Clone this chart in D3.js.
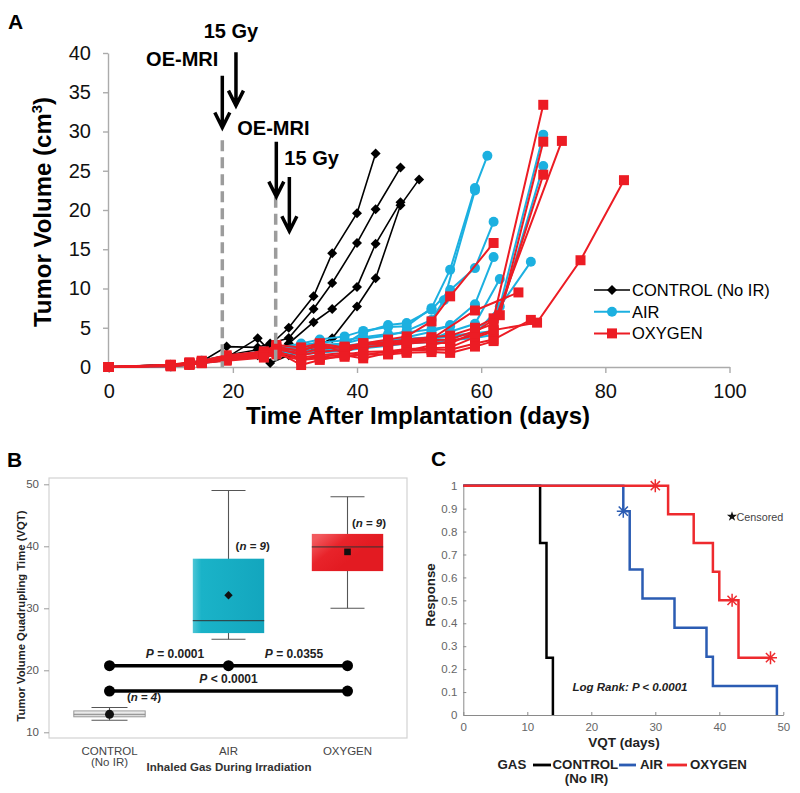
<!DOCTYPE html>
<html><head><meta charset="utf-8">
<script src="https://cdn.jsdelivr.net/npm/d3@7"></script>
<style>body{margin:0;background:#fff}svg{display:block}</style>
</head><body>
<svg id="c" width="800" height="793"></svg>
<script>
// ---------------- DATA ----------------
// Panel A: tumor volume (cm3) vs day after implantation, [day, volume]
const aTicksX = [0, 20, 40, 60, 80, 100];
const aTicksY = [0, 5, 10, 15, 20, 25, 30, 35, 40];
const groupNames = ["CONTROL (No IR)", "AIR", "OXYGEN"];
const controlSeries = [
  [[0,0],[10,0.3],[13,0.5],[15,0.8],[19,1.5],[24,2.2],[26,2.8],[29,5.0],[33,9.0],[36,14.5],[40,19.6],[43,27.2]],
  [[0,0],[10,0.2],[13,0.4],[15,0.7],[19,2.6],[24,2.5],[26,3.0],[29,3.7],[33,7.4],[36,10.7],[40,15.8],[43,20.1],[47,25.4]],
  [[0,0],[10,0.2],[13,0.5],[15,0.6],[19,1.2],[24,3.65],[26,2.0],[29,3.0],[33,5.7],[36,7.4],[40,10.2],[43,15.7],[47,21.0]],
  [[0,0],[10,0.3],[13,0.4],[15,0.5],[19,1.0],[24,1.5],[26,0.5],[29,1.5],[33,2.5],[36,3.65],[40,7.7],[43,11.3],[47,20.6],[50,23.9]]
];
const airSeries = [
  [[0,0],[10,0.2],[13,0.4],[15,0.6],[19,1.2],[25,1.8],[27,2.4],[31,3.0],[34,3.5],[38,3.9],[41,4.6],[45,5.1],[48,5.2],[52,7.5],[55,12.4],[59,22.8],[61,26.9]],
  [[0,0],[10,0.1],[13,0.3],[15,0.5],[19,1.0],[25,1.6],[27,2.2],[31,2.5],[34,2.8],[38,3.0],[41,3.6],[45,4.0],[48,4.6],[52,6.0],[54,8.5],[59,22.5]],
  [[0,0],[10,0.2],[13,0.5],[15,0.8],[19,1.4],[25,2.0],[27,2.6],[31,2.4],[34,2.6],[38,2.9],[41,4.4],[45,5.35],[48,5.6],[52,7.3],[55,9.8],[59,12.6],[62,18.5]],
  [[0,0],[10,0.2],[13,0.4],[15,0.7],[19,1.1],[25,1.5],[27,2.0],[31,2.0],[34,2.2],[38,2.5],[41,2.8],[45,3.2],[48,3.8],[52,4.5],[55,5.35],[59,8.0],[62,14.0]],
  [[0,0],[10,0.2],[13,0.4],[15,0.6],[19,1.0],[25,1.4],[27,1.9],[31,1.6],[34,1.8],[38,2.1],[41,2.4],[45,2.9],[48,3.2],[52,3.5],[55,4.5],[59,5.5],[63,11.2]],
  [[0,0],[10,0.1],[13,0.3],[15,0.5],[19,0.9],[25,1.3],[27,1.7],[31,1.9],[34,2.1],[38,2.3],[41,2.6],[45,3.0],[48,3.3],[52,3.6],[55,3.9],[59,4.2],[63,7.7],[68,13.4]],
  [[0,0],[10,0.2],[13,0.4],[15,0.7],[19,1.2],[25,1.7],[27,2.3],[31,2.2],[34,2.5],[38,2.7],[41,3.0],[45,3.4],[48,3.6],[52,3.8],[55,4.0],[59,4.3],[62,4.6],[70,29.6]],
  [[0,0],[10,0.1],[13,0.3],[15,0.5],[19,0.9],[25,1.4],[27,1.8],[31,1.7],[34,2.0],[38,2.2],[41,2.4],[45,2.7],[48,3.0],[52,3.2],[55,3.4],[59,3.7],[62,4.1],[70,25.6]],
  [[0,0],[10,0.2],[13,0.4],[15,0.6],[19,1.1],[25,1.6],[27,2.1],[31,2.8],[34,3.1],[38,3.4],[41,3.8],[45,4.2],[48,4.4],[52,4.8],[55,5.2]]
];
const oxygenSeries = [
  [[0,0],[10,0.25],[13,0.5],[15,0.7],[19,1.3],[25,1.75],[27,2.6],[31,2.0],[34,3.0],[38,2.5],[41,3.0],[45,3.5],[48,3.9],[52,5.8],[55,9.0],[62,15.8]],
  [[0,0],[10,0.2],[13,0.4],[15,0.6],[19,1.0],[25,1.5],[27,2.0],[31,0.25],[34,0.9],[38,1.5],[41,1.1],[45,1.8],[48,2.0],[52,2.8],[55,3.3],[59,4.0],[62,4.7],[69,5.65],[76,13.6],[83,23.8]],
  [[0,0],[10,0.3],[13,0.6],[15,0.8],[19,1.5],[25,2.0],[27,2.8],[31,2.5],[34,3.0],[38,1.75],[41,3.0],[45,3.2],[48,3.5],[52,3.8],[55,4.0],[59,5.0],[62,6.2],[70,33.4]],
  [[0,0],[10,0.2],[13,0.5],[15,0.7],[19,1.2],[25,1.8],[27,2.4],[31,1.5],[34,1.95],[38,2.2],[41,2.5],[45,2.8],[48,3.0],[52,3.2],[55,3.0],[59,4.4],[63,6.6],[70,28.7]],
  [[0,0],[10,0.2],[13,0.4],[15,0.6],[19,1.1],[25,1.6],[27,2.2],[31,1.8],[34,2.3],[38,2.6],[41,3.0],[45,2.8],[48,3.2],[52,3.4],[55,3.5],[59,4.6],[62,5.5],[73,28.8]],
  [[0,0],[10,0.1],[13,0.3],[15,0.5],[19,0.9],[25,1.4],[27,1.9],[31,1.2],[34,1.5],[38,1.8],[41,1.5],[45,2.0],[48,2.3],[52,2.4],[55,2.5],[59,3.8],[62,4.5],[70,24.5]],
  [[0,0],[10,0.2],[13,0.4],[15,0.6],[19,1.2],[25,1.7],[27,2.3],[31,2.2],[34,2.6],[38,2.4],[41,2.8],[45,3.0],[48,3.3],[52,3.6],[59,7.2],[66,9.5]],
  [[0,0],[10,0.2],[13,0.3],[15,0.5],[19,1.0],[25,1.5],[27,2.0],[31,1.0],[34,1.3],[38,1.6],[41,1.9],[45,2.0],[48,2.1],[52,2.2],[55,2.2],[59,3.0],[62,3.5],[68,6.0]],
  [[0,0],[10,0.1],[13,0.3],[15,0.5],[19,0.8],[25,1.2],[27,1.6],[31,0.9],[34,1.1],[38,1.3],[41,1.6],[45,1.6],[48,1.8],[52,1.9],[55,1.8],[59,2.6],[62,3.3]]
];
// Panel A annotations: events (day), arrow top / tip (volume)
const eventLabels = ["OE-MRI", "15 Gy", "OE-MRI", "15 Gy"];
const eventDays = [18.3, 20.5, 27.0, 29.1];
const arrowTop = [37.1, 40.1, 28.7, 24.2];
const arrowTip = [30.5, 33.3, 21.7, 17.3];
const dashedDays = [18.3, 26.9];
const dashedTop = [28.9, 21.7];

// Panel B: box plot of VQT
const boxCategories = ["CONTROL", "AIR", "OXYGEN"];
const boxSub = ["(No IR)", "", ""];
const boxMin = [11.95, 25, 30];
const boxQ1 = [12.5, 26, 36];
const boxMedian = [12.9, 28, 39.9];
const boxQ3 = [13.45, 38, 42];
const boxMax = [14, 49, 48];
const boxMean = [12.9, 32.1, 39.1];
const boxN = [4, 9, 9];
const bTicksY = [10, 20, 30, 40, 50];
const pLabels = ["= 0.0001", "= 0.0355", "< 0.0001"];
const sigLevels = [20.75, 16.65];

// Panel C: Kaplan-Meier response vs VQT, [days, response]
const cTicksX = [0, 10, 20, 30, 40, 50];
const cTicksY = [0, 0.1, 0.2, 0.3, 0.4, 0.5, 0.6, 0.7, 0.8, 0.9, 1];
const kmControl = [[0,1],[12,0.75],[13,0.25],[14,0],[14,0]];
const kmAir = [[0,1],[25,0.889],[26,0.635],[28,0.508],[33,0.381],[38,0.254],[39,0.127],[49,0],[49,0]];
const kmOxygen = [[0,1],[32,0.875],[36,0.75],[39,0.625],[40,0.5],[43,0.25],[48,0.25]];
const censAir = [[25,0.889]];
const censOxygen = [[30,1],[42,0.5],[48,0.25]];

// ---------------- DRAW ----------------
const F = '"Liberation Sans", Arial, Helvetica, sans-serif';
const svg = d3.select("#c").attr("font-family", F);
const BLACK = "#000", CYAN = "#1cb0e0", RED = "#ec1c24";

// ===== Panel A =====
const xA = d3.scaleLinear().domain([0, 100]).range([108.7, 729.5]);
const yA = d3.scaleLinear().domain([0, 40]).range([367, 53]);
const gA = svg.append("g");

gA.append("text").attr("x", 8).attr("y", 29).attr("font-size", 21).attr("font-weight", "bold").text("A");

const axXA = gA.append("g").attr("transform", `translate(0,${yA(0)})`)
  .call(d3.axisBottom(xA).tickValues(aTicksX).tickSize(6).tickPadding(11).tickSizeOuter(0));
const axYA = gA.append("g").attr("transform", `translate(${xA(0) - 0.7},0)`)
  .call(d3.axisLeft(yA).tickValues(aTicksY).tickSize(5).tickPadding(12).tickSizeOuter(0));
[axXA, axYA].forEach(a => {
  a.attr("font-family", F).attr("font-size", 20);
  a.select(".domain").attr("stroke", "#ababab").attr("stroke-width", 1.4);
  a.selectAll(".tick line").attr("stroke", "#ababab").attr("stroke-width", 1.4);
  a.selectAll(".tick text").attr("fill", "#111");
});

gA.append("text").attr("x", 418).attr("y", 424).attr("text-anchor", "middle")
  .attr("font-size", 24).attr("font-weight", "bold").text("Time After Implantation (days)");
const yt = gA.append("text").attr("transform", "translate(51,212) rotate(-90)").attr("text-anchor", "middle")
  .attr("font-size", 24).attr("font-weight", "bold");
yt.append("tspan").text("Tumor Volume (cm");
yt.append("tspan").attr("font-size", 15).attr("dy", -9).text("3");
yt.append("tspan").attr("dy", 9).text(")");

const lineA = d3.line().x(d => xA(d[0])).y(d => yA(d[1]));
const diamond = r => `M0,${-r}L${r},0L0,${r}L${-r},0Z`;
const square = r => `M${-r},${-r}H${r}V${r}H${-r}Z`;

function drawGroup(series, color, lw, markerFn) {
  const g = gA.append("g");
  series.forEach(s => {
    g.append("path").attr("d", lineA(s)).attr("fill", "none").attr("stroke", color).attr("stroke-width", lw);
  });
  series.forEach(s => {
    g.selectAll(null).data(s).join("g")
      .attr("transform", d => `translate(${xA(d[0])},${yA(d[1])})`)
      .call(markerFn);
  });
}
const mkDiamond = sel => sel.append("path").attr("d", diamond(5)).attr("fill", BLACK);
const mkCircle = sel => sel.append("circle").attr("r", 5).attr("fill", CYAN);
const mkSquare = sel => sel.append("path").attr("d", square(5)).attr("fill", RED);

drawGroup(controlSeries, BLACK, 1.6, mkDiamond);
drawGroup(airSeries, CYAN, 2, mkCircle);
drawGroup(oxygenSeries, RED, 2, mkSquare);

// dashed event lines
dashedDays.forEach((d, i) => {
  gA.append("line").attr("x1", xA(d)).attr("x2", xA(d)).attr("y1", yA(dashedTop[i])).attr("y2", yA(0))
    .attr("stroke", "#9c9c9c").attr("stroke-width", 3.5).attr("stroke-dasharray", "11,6");
});
// arrows + labels
eventDays.forEach((d, i) => {
  const x = xA(d), y0 = yA(arrowTop[i]), y1 = yA(arrowTip[i]);
  gA.append("path").attr("d", `M${x},${y0}V${y1 - 1}M${x - 7.5},${y1 - 15}L${x},${y1}L${x + 7.5},${y1 - 15}`)
    .attr("fill", "none").attr("stroke", "#000").attr("stroke-width", 3.5);
});
const lbl = [
  {t: eventLabels[0], x: xA(eventDays[0]) - 4, y: yA(arrowTop[0]) - 10, a: "end"},
  {t: eventLabels[1], x: xA(eventDays[1]) - 5, y: yA(arrowTop[1]) - 14, a: "middle"},
  {t: eventLabels[2], x: xA(eventDays[2]) - 39, y: yA(arrowTop[2]) - 7, a: "start"},
  {t: eventLabels[3], x: xA(eventDays[3]) - 5, y: yA(arrowTop[3]) - 12, a: "start"}
];
lbl.forEach(l => gA.append("text").attr("x", l.x).attr("y", l.y).attr("text-anchor", l.a)
  .attr("font-size", 20).attr("font-weight", "bold").text(l.t));

// legend A
const legA = gA.append("g");
const legMk = [mkDiamond, mkCircle, mkSquare], legCol = [BLACK, CYAN, RED];
groupNames.forEach((n, i) => {
  const y = 290 + i * 21.7;
  legA.append("line").attr("x1", 594).attr("x2", 630).attr("y1", y).attr("y2", y)
    .attr("stroke", legCol[i]).attr("stroke-width", i === 0 ? 1.6 : 2);
  legA.append("g").attr("transform", `translate(612,${y})`).call(legMk[i]);
  legA.append("text").attr("x", 632).attr("y", y + 6).attr("font-size", 16.5).text(n);
});

// ===== Panel B =====
const gB = svg.append("g");
gB.append("text").attr("x", 7).attr("y", 467).attr("font-size", 21).attr("font-weight", "bold").text("B");
const xB = d3.scaleBand().domain(boxCategories).range([50, 407]);
const yB = d3.scaleLinear().domain([10, 50]).range([732.3, 484.3]);
const defs = svg.append("defs");
const gAir = defs.append("linearGradient").attr("id", "gAir").attr("x1", 0).attr("x2", 1).attr("y1", 0).attr("y2", 0);
gAir.append("stop").attr("offset", "0").attr("stop-color", "#4cc6d6");
gAir.append("stop").attr("offset", "0.12").attr("stop-color", "#1ab3c8");
gAir.append("stop").attr("offset", "1").attr("stop-color", "#13a6be");
const gOx = defs.append("linearGradient").attr("id", "gOx").attr("x1", 0).attr("x2", 0.6).attr("y1", 0.2).attr("y2", 0.6);
gOx.append("stop").attr("offset", "0").attr("stop-color", "#f25a5e");
gOx.append("stop").attr("offset", "0.5").attr("stop-color", "#e8232a");
gOx.append("stop").attr("offset", "1").attr("stop-color", "#e31b22");
const gCt = defs.append("linearGradient").attr("id", "gCt").attr("x1", 0).attr("x2", 0).attr("y1", 0).attr("y2", 1);
gCt.append("stop").attr("offset", "0").attr("stop-color", "#f2f2f2");
gCt.append("stop").attr("offset", "1").attr("stop-color", "#d6d6d6");
const boxFill = ["url(#gCt)", "url(#gAir)", "url(#gOx)"];

gB.append("rect").attr("x", 49).attr("y", 478).attr("width", 358).attr("height", 260)
  .attr("fill", "none").attr("stroke", "#d2d2d2").attr("stroke-width", 1.2);
const axYB = gB.append("g").attr("transform", "translate(49,0)")
  .call(d3.axisLeft(yB).tickValues(bTicksY).tickSize(5).tickPadding(5).tickSizeOuter(0));
axYB.attr("font-family", F).attr("font-size", 11.5);
axYB.select(".domain").remove();
axYB.selectAll(".tick line").attr("stroke", "#9a9a9a");
axYB.selectAll(".tick text").attr("fill", "#555");

const bw = xB.bandwidth();
boxCategories.forEach((c, i) => {
  const cx = xB(c) + bw / 2, w = bw * 0.6, cw = i === 0 ? 36 : 34;
  const g = gB.append("g");
  g.append("line").attr("x1", cx).attr("x2", cx).attr("y1", yB(boxMin[i])).attr("y2", yB(boxMax[i])).attr("stroke", "#555").attr("stroke-width", 1.1);
  [boxMin[i], boxMax[i]].forEach(v => g.append("line").attr("x1", cx - cw / 2).attr("x2", cx + cw / 2)
    .attr("y1", yB(v)).attr("y2", yB(v)).attr("stroke", "#555").attr("stroke-width", 1.1));
  g.append("rect").attr("x", cx - w / 2).attr("y", yB(boxQ3[i])).attr("width", w).attr("height", yB(boxQ1[i]) - yB(boxQ3[i]))
    .attr("fill", boxFill[i]).attr("stroke", i === 0 ? "#9a9a9a" : "none").attr("stroke-width", 1);
  g.append("line").attr("x1", cx - w / 2).attr("x2", cx + w / 2).attr("y1", yB(boxMedian[i])).attr("y2", yB(boxMedian[i]))
    .attr("stroke", i === 0 ? "#888" : "#333").attr("stroke-width", 1);
  if (i === 0) g.append("circle").attr("cx", cx).attr("cy", yB(boxMean[i])).attr("r", 4.5).attr("fill", "#111");
  else g.append("path").attr("transform", `translate(${cx},${yB(boxMean[i])})`).attr("d", i === 1 ? diamond(4.2) : square(3.3)).attr("fill", "#111");
  g.append("text").attr("x", cx).attr("y", 755).attr("text-anchor", "middle").attr("font-size", 11.5).attr("fill", "#444").text(c);
  if (boxSub[i]) g.append("text").attr("x", cx).attr("y", 766).attr("text-anchor", "middle").attr("font-size", 11.5).attr("fill", "#444").text(boxSub[i]);
});
// n labels
const nPos = [[144, 15.0], [252.7, 39.4], [369, 43.1]];
boxN.forEach((n, i) => {
  const t = gB.append("text").attr("x", nPos[i][0]).attr("y", yB(nPos[i][1])).attr("text-anchor", "middle")
    .attr("font-size", 11.5).attr("font-weight", "bold").attr("fill", "#222");
  t.append("tspan").text("(");
  t.append("tspan").attr("font-style", "italic").text("n");
  t.append("tspan").text(" = ");
  t.append("tspan").attr("font-style", "italic").text(n);
  t.append("tspan").text(")");
});
// significance bars
const cxs = boxCategories.map(c => xB(c) + bw / 2);
sigLevels.forEach((lv, j) => {
  gB.append("line").attr("x1", cxs[0]).attr("x2", cxs[2]).attr("y1", yB(lv)).attr("y2", yB(lv)).attr("stroke", "#000").attr("stroke-width", 3.5);
  const pts = j === 0 ? cxs : [cxs[0], cxs[2]];
  pts.forEach(x => gB.append("circle").attr("cx", x).attr("cy", yB(lv)).attr("r", 5.5).attr("fill", "#000"));
});
const pPos = [[(cxs[0] + cxs[1]) / 2 + 6, sigLevels[0]], [(cxs[1] + cxs[2]) / 2 + 6, sigLevels[0]], [cxs[1], sigLevels[1]]];
pLabels.forEach((p, i) => {
  const t = gB.append("text").attr("x", pPos[i][0]).attr("y", yB(pPos[i][1]) - 8).attr("text-anchor", "middle")
    .attr("font-size", 12).attr("font-weight", "bold").attr("fill", "#222");
  t.append("tspan").attr("font-style", "italic").text("P");
  t.append("tspan").text(" " + p);
});
gB.append("text").attr("x", 229).attr("y", 771).attr("text-anchor", "middle").attr("font-size", 11.5)
  .attr("font-weight", "bold").attr("fill", "#333").text("Inhaled Gas During Irradiation");
gB.append("text").attr("transform", "translate(25,616) rotate(-90)").attr("text-anchor", "middle").attr("font-size", 11.3)
  .attr("font-weight", "bold").attr("fill", "#222").text("Tumor Volume Quadrupling Time (VQT)");

// ===== Panel C =====
const gC = svg.append("g");
gC.append("text").attr("x", 431).attr("y", 466).attr("font-size", 21).attr("font-weight", "bold").text("C");
const xC = d3.scaleLinear().domain([0, 50]).range([463.3, 783.3]);
const yC = d3.scaleLinear().domain([0, 1]).range([715, 485.7]);
const axXC = gC.append("g").attr("transform", `translate(0,${yC(0)})`)
  .call(d3.axisBottom(xC).tickValues(cTicksX).tickSize(-3).tickPadding(8).tickSizeOuter(0));
const axYC = gC.append("g").attr("transform", `translate(${xC(0)},0)`)
  .call(d3.axisLeft(yC).tickValues(cTicksY).tickFormat(d3.format("~g")).tickSize(-3).tickPadding(6).tickSizeOuter(0));
[axXC, axYC].forEach(a => {
  a.attr("font-family", F).attr("font-size", 11.5);
  a.select(".domain").attr("stroke", "#8a8a8a");
  a.selectAll(".tick line").attr("stroke", "#8a8a8a");
  a.selectAll(".tick text").attr("fill", "#666");
});
const km = d3.line().curve(d3.curveStepAfter).x(d => xC(d[0])).y(d => yC(d[1]));
const kmCol = ["#000", "#2b5cb3", "#ee2a2e"];
[kmControl, kmAir, kmOxygen].forEach((k, i) => {
  gC.append("path").attr("d", km(k)).attr("fill", "none").attr("stroke", kmCol[i]).attr("stroke-width", 2.5);
});
const star = r => { const q = r * Math.SQRT1_2; return `M${-r},0H${r}M0,${-r}V${r}M${-q},${-q}L${q},${q}M${-q},${q}L${q},${-q}`; };
[[censAir, kmCol[1]], [censOxygen, kmCol[2]]].forEach(([pts, col]) => {
  pts.forEach(p => gC.append("path").attr("transform", `translate(${xC(p[0])},${yC(p[1])})`).attr("d", star(6.5))
    .attr("stroke", col).attr("stroke-width", 1.5).attr("fill", "none"));
});
gC.append("path").attr("transform", "translate(732,516.5)").attr("d", d3.symbol(d3.symbolStar, 32)()).attr("fill", "#111");
gC.append("text").attr("x", 736.5).attr("y", 521).attr("font-size", 10.8).attr("fill", "#444").text("Censored");
gC.append("text").attr("x", 630).attr("y", 691).attr("text-anchor", "middle").attr("font-size", 11.5)
  .attr("font-weight", "bold").attr("font-style", "italic").attr("fill", "#222").text("Log Rank: P < 0.0001");
gC.append("text").attr("x", 624).attr("y", 747).attr("text-anchor", "middle").attr("font-size", 13.5)
  .attr("font-weight", "bold").attr("fill", "#222").text("VQT (days)");
gC.append("text").attr("transform", "translate(435,595) rotate(-90)").attr("text-anchor", "middle").attr("font-size", 13.3)
  .attr("font-weight", "bold").attr("fill", "#222").text("Response");
// legend C
const lg = gC.append("g").attr("font-size", 13.3).attr("font-weight", "bold").attr("fill", "#222");
lg.append("text").attr("x", 497.5).attr("y", 769).text("GAS");
const legItems = [["CONTROL", 533, 551, 552.5], ["AIR", 619, 636, 640], ["OXYGEN", 667, 687, 690]];
legItems.forEach((it, i) => {
  lg.append("line").attr("x1", it[1]).attr("x2", it[2]).attr("y1", 765).attr("y2", 765).attr("stroke", kmCol[i]).attr("stroke-width", 2.8);
  lg.append("text").attr("x", it[3]).attr("y", 769).text(it[0]);
});
lg.append("text").attr("x", 586.5).attr("y", 783).attr("text-anchor", "middle").text("(No IR)");
</script>
</body></html>
